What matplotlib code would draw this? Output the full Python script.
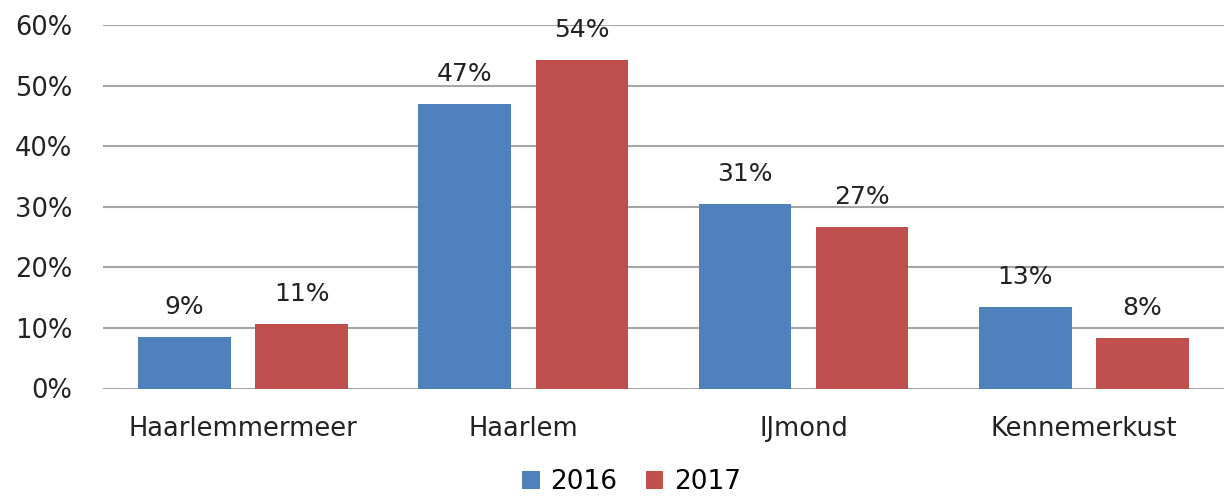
import numpy as np
import matplotlib.pyplot as plt
from matplotlib.ticker import PercentFormatter

regions = ['Haarlemmermeer', 'Haarlem', 'IJmond', 'Kennemerkust']
share_2016 = [8.5, 46.9, 30.5, 13.4]
share_2017 = [10.6, 54.2, 26.7, 8.4]
labels_2016 = ['9%', '47%', '31%', '13%']
labels_2017 = ['11%', '54%', '27%', '8%']

blue = '#4F81BD'
red = '#C0504D'

plt.rcParams['font.family'] = ['DejaVu Sans']

fig = plt.figure(figsize=(12.24, 5), dpi=100)
ax = fig.add_axes([0.084, 0.223, 0.916, 0.727])

x = np.arange(len(regions))
w = 0.33
off = 0.209
b1 = ax.bar(x - off, share_2016, w, color=blue, label='2016', zorder=3)
b2 = ax.bar(x + off, share_2017, w, color=red, label='2017', zorder=3)

for bars, labs in ((b1, labels_2016), (b2, labels_2017)):
    for bar, lab in zip(bars, labs):
        ax.annotate(lab, (bar.get_x() + bar.get_width() / 2, bar.get_height()),
                    xytext=(0, 13), textcoords='offset points',
                    ha='center', va='bottom', fontsize=18, color='#222222')

ax.set_xlim(-0.5, 3.5)
ax.set_ylim(0, 60)
ax.set_yticks(range(0, 61, 10))
ax.yaxis.set_major_formatter(PercentFormatter(decimals=0))
ax.grid(axis='y', color='#a6a6a6', linewidth=1.5, zorder=0)
for s in ax.spines.values():
    s.set_visible(False)
ax.tick_params(axis='y', length=0, pad=22, labelsize=18.5, labelcolor='#222222')
ax.set_xticks(x)
ax.set_xticklabels(regions)
ax.tick_params(axis='x', length=0, pad=20, labelsize=18.5, labelcolor='#222222')

fig.legend(loc='lower center', bbox_to_anchor=(0.516, -0.038), ncol=2, frameon=False,
           fontsize=19, handlelength=0.65, handleheight=0.65, handletextpad=0.4,
           columnspacing=1.1)

fig.savefig('out.png', dpi=100)
